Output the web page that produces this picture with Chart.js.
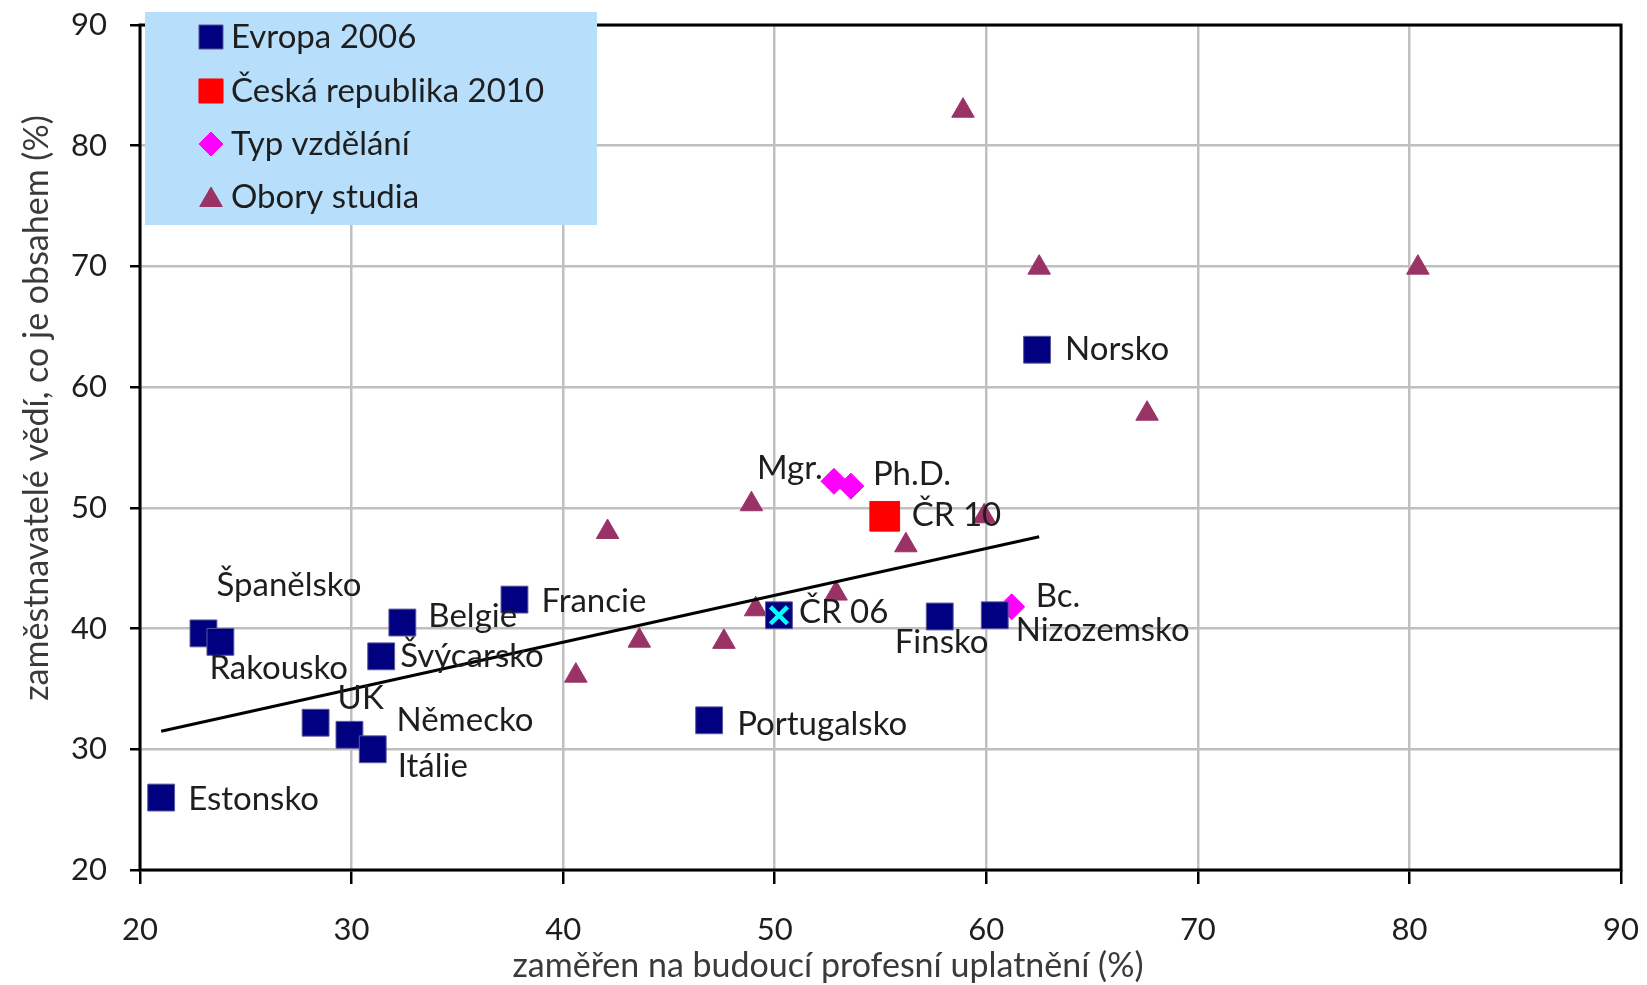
<!DOCTYPE html>
<html><head><meta charset="utf-8">
<script src="https://cdn.jsdelivr.net/npm/chart.js@4.4.1/dist/chart.umd.min.js"></script>
<style>html,body{margin:0;padding:0;background:#fff}#wrap{width:1647px;height:985px;position:relative}</style>
</head><body><div id="wrap"><canvas id="c" width="1647" height="985"></canvas></div>
<script>
// ---- data ----
const evropaNames = ['Estonsko','Španělsko','Rakousko','UK','Německo','Itálie','Švýcarsko','Belgie','Francie','Portugalsko','ČR 06','Finsko','Nizozemsko','Norsko'];
const evropaX = [21.0, 23.0, 23.8, 28.3, 29.9, 31.0, 31.4, 32.4, 37.7, 46.9, 50.2, 57.8, 60.4, 62.4];
const evropaY = [26.0, 39.6, 38.9, 32.2, 31.2, 30.0, 37.7, 40.5, 42.4, 32.4, 41.1, 41.0, 41.1, 63.1];
const cr2010Names = ['ČR 10'];
const cr2010X = [55.2];
const cr2010Y = [49.3];
const typNames = ['Mgr.','Ph.D.','Bc.'];
const typX = [52.8, 53.6, 61.2];
const typY = [52.2, 51.8, 41.8];
const oboryX = [58.9, 62.5, 80.4, 67.6, 42.1, 48.9, 59.9, 56.2, 52.9, 49.1, 43.6, 47.6, 40.6];
const oboryY = [82.9, 69.9, 69.9, 57.8, 48.0, 50.3, 49.3, 46.9, 42.9, 41.6, 39.0, 38.9, 36.1];
const trendX = [21.0, 62.5];
const trendY = [31.5, 47.6];
const crHighlight = ['ČR 06'];
const seriesNames = ['Evropa 2006','Česká republika 2010','Typ vzdělání','Obory studia'];
const xTitle = 'zaměřen na budoucí profesní uplatnění (%)';
const yTitle = 'zaměstnavatelé vědí, co je obsahem (%)';
const axisMin = 20, axisMax = 90, axisStep = 10;

// ---- styles (label offsets in px) ----
const labelOffsets = {
  'Estonsko':[27,2],'Španělsko':[13,-48],'Rakousko':[-11,27],'UK':[22,-24],'Německo':[47,-14],
  'Itálie':[25,17],'Švýcarsko':[19,0],'Belgie':[26,-6],'Francie':[27,2],'Portugalsko':[28,4],
  'ČR 06':[20,-3],'Finsko':[-45,26],'Nizozemsko':[21,15],'Norsko':[28,0],'ČR 10':[27,-1],
  'Mgr.':[-77,-13],'Ph.D.':[22,-12],'Bc.':[24,-10]
};
const FONT = 'Lato, "Open Sans", sans-serif';
const TXT = '#1e1e1e';

const pts = (xs, ys) => xs.map((x, i) => ({x, y: ys[i]}));
const hiIdx = crHighlight.map(n => evropaNames.indexOf(n));

const datasets = [
  {label:'trend', type:'line', data: pts(trendX, trendY), borderColor:'#000', borderWidth:3, pointRadius:0, fill:false, showLine:true, order:0},
  {label:'ČR 06 highlight', data: hiIdx.map(i => ({x: evropaX[i], y: evropaY[i]})), pointStyle:'crossRot', pointRadius:12, borderColor:'#00ffff', backgroundColor:'#00ffff', pointBorderWidth:4.5, order:1},
  {label: seriesNames[0], data: pts(evropaX, evropaY), names: evropaNames, pointStyle:'rect', pointRadius:19, backgroundColor:'#000080', borderColor:'#5a5a9a', pointBorderWidth:1, order:2},
  {label: seriesNames[1], data: pts(cr2010X, cr2010Y), names: cr2010Names, pointStyle:'rect', pointRadius:21, backgroundColor:'#ff0000', borderColor:'#ff0000', pointBorderWidth:1, order:3},
  {label: seriesNames[2], data: pts(typX, typY), names: typNames, pointStyle:'rectRot', pointRadius:13, backgroundColor:'#ff00ff', borderColor:'#ff00ff', pointBorderWidth:1, order:4},
  {label: seriesNames[3], data: pts(oboryX, oboryY), pointStyle:'triangle', pointRadius:13, backgroundColor:'#993366', borderColor:'#993366', pointBorderWidth:1, order:5}
];

const framePlugin = {
  id:'frame',
  beforeDatasetsDraw(chart){
    const {ctx, chartArea:a} = chart;
    ctx.save(); ctx.strokeStyle='#000'; ctx.lineWidth=3;
    ctx.strokeRect(a.left, a.top, a.right-a.left, a.bottom-a.top);
    ctx.restore();
  }
};

const labelPlugin = {
  id:'pointLabels',
  afterDatasetsDraw(chart){
    const ctx = chart.ctx;
    ctx.save();
    ctx.font = '33px ' + FONT; ctx.fillStyle = TXT; ctx.textAlign='left'; ctx.textBaseline='middle';
    chart.data.datasets.forEach((ds, di) => {
      if (!ds.names) return;
      const meta = chart.getDatasetMeta(di);
      meta.data.forEach((el, i) => {
        const n = ds.names[i]; const o = labelOffsets[n] || [20,0];
        ctx.fillText(n, el.x + o[0], el.y + o[1]);
      });
    });
    ctx.restore();
  }
};

const titlesLegendPlugin = {
  id:'titlesLegend',
  afterDraw(chart){
    const ctx = chart.ctx;
    ctx.save();
    ctx.fillStyle = '#3a3a3a';
    ctx.textAlign='center'; ctx.textBaseline='middle';
    ctx.font = '34px ' + FONT;
    ctx.fillText(xTitle, 828, 966);
    ctx.translate(37, 408); ctx.rotate(-Math.PI/2);
    ctx.fillText(yTitle, 0, 0);
    ctx.restore();
    // legend box
    ctx.save();
    ctx.fillStyle = '#b7defa';
    ctx.fillRect(145, 12, 452, 213);
    const rows = [37, 91, 144, 197];
    const legendSets = chart.data.datasets.filter(d => seriesNames.includes(d.label));
    legendSets.forEach((ds, i) => {
      const y = rows[i];
      const r = ds.pointStyle === 'rect' ? 17 : (ds.pointStyle === 'rectRot' ? 12 : 13);
      ctx.fillStyle = ds.backgroundColor; ctx.strokeStyle = ds.borderColor; ctx.lineWidth = 1;
      Chart.helpers.drawPoint(ctx, {pointStyle: ds.pointStyle, radius: r, borderWidth: 1, rotation: 0}, 211, ds.pointStyle==='triangle' ? y+3 : y);
      ctx.fillStyle = TXT; ctx.font = '33px ' + FONT; ctx.textAlign='left'; ctx.textBaseline='middle';
      ctx.fillText(ds.label, 231, y);
    });
    ctx.restore();
  }
};

const tickFont = {family: FONT, size: 31};
new Chart(document.getElementById('c'), {
  type:'scatter',
  data:{datasets},
  options:{
    responsive:false, animation:false, devicePixelRatio:1,
    layout:{padding:{left:0, right:26, top:25, bottom:0}},
    plugins:{legend:{display:false}, tooltip:{enabled:false}},
    scales:{
      x:{type:'linear', min:axisMin, max:axisMax,
         ticks:{stepSize:axisStep, font:tickFont, color:TXT, padding:27, maxRotation:0},
         grid:{color:'#c0c0c0', lineWidth:2.5, tickColor:'#000', tickLength:14, tickWidth:2.5},
         border:{display:false},
         afterFit(s){ s.height = 115; s.paddingLeft = 0; s.paddingRight = 0; }},
      y:{type:'linear', min:axisMin, max:axisMax,
         ticks:{stepSize:axisStep, font:tickFont, color:TXT, padding:23},
         grid:{color:'#c0c0c0', lineWidth:2.5, tickColor:'#000', tickLength:10, tickWidth:2.5},
         border:{display:false},
         afterFit(s){ s.width = 140; s.paddingTop = 0; s.paddingBottom = 0; }}
    }
  },
  plugins:[framePlugin, labelPlugin, titlesLegendPlugin]
});
</script></body></html>
